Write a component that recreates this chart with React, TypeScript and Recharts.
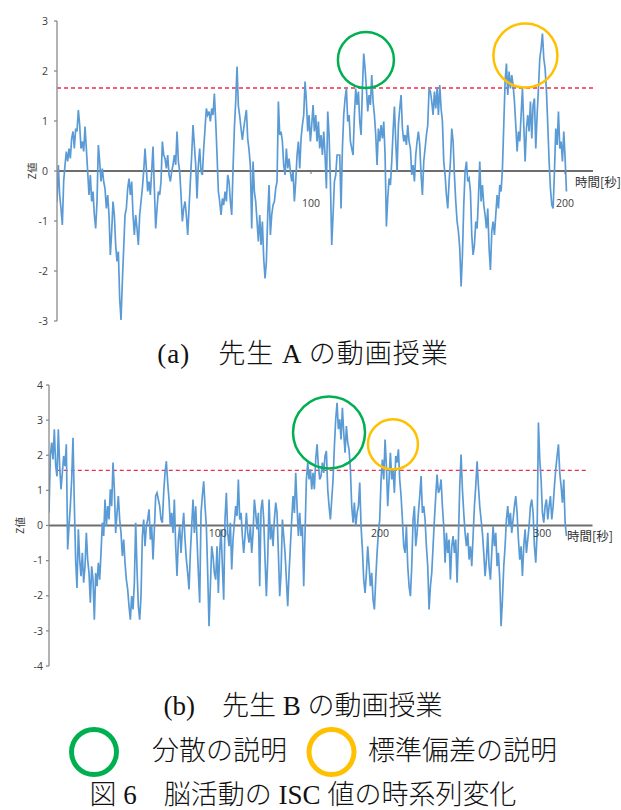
import React from 'react';
import { LineChart, Line, XAxis, YAxis, ReferenceLine, ReferenceDot } from 'recharts';

// ---------- data: teacher A (sampling interval DT_A seconds) ----------
const DT_A = 0.525;
const zA = [
  -0.61, 0.12, -0.48, -0.75, -1.08, -0.21, 0.12, 0.39, 0.19, 0.45,
  0.25, 0.65, 0.79, 0.45, 0.85, 0.79, 1.22, 0.92, 0.45, 0.59,
  0.39, 0.89, 0.45, -0.01, -0.48, -0.08, -0.61, -0.41, -0.88, -1.15,
  -0.61, 0.52, 0.19, -0.21, 0.05, -0.21, -0.35, -0.75, -0.48, -0.88,
  -1.68, -1.21, -0.61, -0.88, -1.48, -1.81, -1.61, -2.55, -2.98, -2.21,
  -1.55, -0.88, -0.75, -0.35, -0.15, -0.48, -0.21, -0.88, -1.28, -0.88,
  -1.15, -1.48, -0.88, -0.61, -0.35, -0.01, 0.45, 0.05, -0.41, -0.21,
  -0.48, -0.01, 0.49, -0.35, -1.15, -0.75, -0.41, -0.48, -0.21, 0.59,
  0.32, 0.25, 0.05, 0.32, -0.08, -0.21, -0.01, 0.12, 0.32, 0.12,
  0.79, 0.19, -0.01, -0.48, -1.01, -0.75, -0.61, -0.88, -1.28, -0.75,
  -0.21, 0.32, 0.92, 0.52, 0.12, -0.55, 0.12, 0.45, -0.01, -0.08,
  0.45, 0.85, 1.25, 1.12, 1.19, 0.99, 1.25, 1.12, 1.55, 0.99,
  0.32, -0.41, -0.61, -0.88, -0.55, -0.68, -0.41, -0.61, -0.08, -0.21,
  -0.61, -0.88, 0.05, 0.85, 1.39, 2.09, 1.3, 1.1, 0.85, 0.62,
  0.85, 1.05, 1.22, 0.65, 0.42, 0.1, -1.15, 0.19, -0.41, -0.61,
  -1.01, -1.41, -0.88, -1.48, -1.01, -1.75, -2.15, -1.81, -0.88, -0.28,
  -1.28, -0.88, -0.68, -0.61, -0.35, -0.21, 1.39, 0.72, 0.79, 0.59,
  0.12, -0.08, 0.45, 0.05, 0.25, -0.01, -0.21, -0.01, -0.61, -0.21,
  0.32, 0.59, 0.05, 0.65, 0.92, 1.12, 1.79, 1.39, 0.79, 1.12,
  0.59, 0.92, 1.32, 0.79, 1.12, 0.59, 0.99, 0.45, 0.72, 0.32,
  0.79, 0.32, -0.35, 1.19, 0.72, -0.21, -1.48, -0.88, -0.21, -0.08,
  0.32, 0.32, 0.32, -0.75, 0.45, 1.12, 1.45, 1.65, 0.99, 1.12,
  0.59, 0.45, 0.32, 1.12, 1.65, 1.32, 1.59, 0.99, 0.72, 1.65,
  2.35, 2.05, 1.65, 1.19, 1.52, 1.32, 1.92, 1.39, 1.12, 0.72,
  0.12, 0.85, 0.59, 0.92, 0.65, 0.99, 0.32, -1.11, -0.55, -0.15,
  -0.28, 0.19, 0.79, 1.29, 0.59, -0.01, 0.92, 1.25, 1.52, 0.85,
  0.59, 0.72, 0.52, 0.92, 0.59, 0.45, -0.08, 0.12, -0.21, 0.32,
  0.59, 0.79, 0.52, -0.08, -0.48, 0.19, 0.45, 0.72, 0.92, 1.65,
  1.59, 1.39, 1.12, 1.59, 1.25, 1.65, 1.12, 1.72, 1.25, 0.99,
  0.19, -0.08, -0.48, -0.75, -0.21, 0.19, 0.85, 0.59, -0.08, -0.61,
  -1.01, -1.21, -1.55, -2.31, -1.68, -0.68, -0.01, 0.19, -0.21, -0.15,
  -0.41, -1.28, -1.68, -1.48, -1.01, -1.15, -0.55, 0.19, -0.61, -0.28,
  -0.68, -0.88, -1.15, -0.75, -1.55, -1.98, -1.21, -1.01, -1.28, -0.88,
  -0.48, -0.75, -0.28, -0.41, 0.05, 0.92, 1.79, 2.15, 1.52, 1.99,
  1.65, 1.92, 1.72, 1.39, 0.92, 0.39, 0.79, 0.59, 1.12, 1.65,
  0.92, 0.19, 0.85, 1.12, 0.79, 1.39, 0.65, 1.32, 1.45, 0.45,
  1.12, 1.65, 2.25, 2.45, 2.75, 2.25, 2.05, 1.59, 0.92, 0.19,
  -0.35, -0.68, -0.75, -0.01, 0.85, 0.52, 1.19, 0.45, 0.59, 0.19,
  0.79, 0.25, -0.41,
];

// ---------- data: teacher B (sampling interval DT_B seconds) ----------
const DT_B = 0.822;
const zB = [
  0.36, 1.98, 2.36, 1.88, 2.74, 1.7, 1.4, 2.74, 1.69, 1.03,
  1.5, 1.98, 1.69, 2.31, -0.68, -0.02, 0.55, 1.31, 2.5, 0.6,
  -1.0, -1.78, -0.11, -0.97, -1.44, -0.78, -1.63, -1.16, -0.21, -0.97,
  -1.35, -2.2, -1.16, -1.54, -2.68, -1.35, -1.73, -1.06, -1.54, -0.78,
  0.08, -0.3, 0.74, -0.02, 0.55, 0.17, 1.03, 0.55, 1.79, 1.03,
  -0.21, 0.36, 0.84, 0.17, -0.21, -0.87, -0.4, -1.06, -1.54, -1.82,
  -2.3, -2.68, -2.01, -2.39, -1.63, 0.08, -1.25, -2.3, -2.68, -2.01,
  -0.3, 0.17, -0.59, -0.02, 0.17, 0.46, -0.4, -0.02, -0.97, -0.11,
  0.84, 0.93, 0.74, 0.55, 0.17, 0.08, 0.93, 1.5, 1.83, 1.22,
  0.74, -0.02, 0.36, -0.21, 0.74, -0.59, -1.44, -0.4, -0.02, -0.78,
  -0.11, 0.36, -0.4, -0.97, -1.35, -1.82, -0.78, -0.02, 0.74, -0.21,
  0.55, -0.4, -1.35, -2.2, 0.36, 0.84, 1.26, 0.55, -0.02, -1.35,
  -2.87, -1.73, -0.59, -0.87, -1.35, -1.54, -0.59, -1.92, -0.78, -0.11,
  -1.16, -2.11, 0.2, 0.93,
  -0.21, -0.59, 0.08, -1.25, -0.4, 0.08, 0.55, 0.27, 1.31, 0.17,
  0.36, -0.3, -0.78, -0.3, 0.36, -0.21, -0.49, -0.02, -0.78, -0.21,
  0.74, 0.36, -0.11, 0.36, -1.73, 0.46, 0.74, 0.17, -0.97, -2.01,
  -0.97, 0.74, -0.4, -0.02, -0.59, 0.17, 0.65, 0.36, -0.78, -2.01,
  -1.35, 0.17, -0.3, -0.78, -1.54, -2.3, -1.35, -0.59, 0.17, 0.84,
  0.36, 1.5, 0.55, -0.3, 0.36, -0.3, -0.02, -1.73, -0.21, 1.31,
  1.79, 1.31, 1.6, 1.03, 1.5, 1.03, 1.88, 2.31, 1.69, 1.31,
  1.41, 1.79, 1.5, 1.98, 2.12, 1.03, 0.55, 0.17, 0.74, 1.31,
  2.26, 3.02, 3.49, 2.74, 3.02, 2.45, 3.35, 2.64, 2.07, 2.83,
  2.36, 2.17, 1.6, 0.55, 0.08, 0.65, -0.02, 0.36, 0.55, 1.22,
  -0.02, -0.68, -1.54, -1.92, -1.35, -0.59, -1.16, -1.73, -1.35, -2.11,
  -2.39, -1.54, -0.78, -0.21, 0.17, 1.31, 1.88, 1.31, 2.45, 1.69,
  0.55, 1.31, 2.07, 1.31, 1.6, 0.93, 1.98, 1.79, 2.17, 1.31,
  0.84, 0.17, -0.59, -0.78, -0.02, -1.16,
  -1.73, -2.01,
  -1.16, 0.17, 0.55, -0.59, -0.21, 0.36, 0.84, 1.41, 0.36, 0.55,
  0.17, -0.59, -1.16, -2.39, -1.73, -1.35, -0.59, 0.17, 0.84, 1.45,
  0.93, 1.03, 1.31, 0.55, -0.02, -1.06, -0.21, -0.78, -0.4, -1.54,
  -0.59, -0.3, -0.78, -0.4, -1.63, -0.4, 1.12, 2.02, 1.03, 0.36,
  -0.21, -0.59, -0.21, -0.97, -0.59, -1.16, -0.3, 0.55, 1.12, 1.83,
  1.12, 0.55, 0.17, -0.21, -0.78, -1.44, -0.97, -0.21, -1.16, -1.54,
  -0.78, -0.02, -0.59, -0.21, -1.16, -0.78, -1.54, -2.87, -2.11, -1.16,
  -0.59, 0.17, 0.55, -0.02, 0.36, -0.21, 0.17, 0.55, 0.84, 0.36,
  -0.4, -0.97, -0.59, -1.44, -0.59, -0.11, -0.78, -0.4, -0.02, 0.55,
  0.74, 0.36, -0.59, -1.06, -0.21, 2.93, 1.88, 1.31, 0.36, 0.08,
  0.55, 0.74, 0.17, 0.55, 0.84, 0.17, 0.55, 1.12, 1.6, 1.98,
  2.31, 1.5, 1.12, 0.65, 1.31, 0.08, -0.3,
];

// ---------- axes / annotations ----------
const yTicksA = [-3, -2, -1, 0, 1, 2, 3];
const yTicksB = [-4, -3, -2, -1, 0, 1, 2, 3, 4];
const xTicksA = [100, 200];
const xTicksB = [100, 200, 300];
const xDomainA: [number, number] = [0, 211];
const xDomainB: [number, number] = [0, 335];
const thresholdA = 1.66;
const thresholdB = 1.57;
const thresholdSpanB: [number, number] = [4.8, 331.5];
const varianceMarkA = { t: 121.6, z: 2.22 };
const stdMarkA = { t: 184.4, z: 2.31 };
const varianceMarkB = { t: 172.6, z: 2.65 };
const stdMarkB = { t: 212.0, z: 2.31 };

const dataA = zA.map((z, i) => ({ t: +(i * DT_A).toFixed(3), z }));
const dataB = zB.map((z, i) => ({ t: +(i * DT_B).toFixed(3), z }));

const SANS = '"Open Sans", "Noto Sans", sans-serif';
const JP = '"Noto Sans CJK JP", sans-serif';
const SERIF = '"Liberation Serif", "Noto Sans CJK JP", serif';
const BLUE = '#5b9bd5';
const AXIS = '#6e6e6e';
const GREEN = '#00b050';
const YELLOW = '#ffc000';
const RED = '#ec2f4b';

const xTickLabel = (text: string, dx: number, dy: number, mark: boolean) => (props: any) => {
  const vb = props.viewBox || { x: 0, y: 0, width: 0, height: 0 };
  const x = vb.x + (vb.width || 0) / 2;
  const y = vb.y + (vb.height || 0) / 2;
  return (
    <g>
      {mark ? <line x1={x} x2={x} y1={y} y2={y + 3} stroke={AXIS} strokeWidth={1} /> : null}
      <text x={x + dx} y={y + dy} textAnchor="middle" fontSize={10.5} fill="#404040" fontFamily={SANS}>
        {text}
      </text>
    </g>
  );
};

const timeTitle = (dx: number, dy: number) => (props: any) => {
  const vb = props.viewBox || { x: 0, y: 0, width: 0, height: 0 };
  const x = vb.x + (vb.width || 0) / 2;
  const y = vb.y + (vb.height || 0) / 2;
  return (
    <text x={x + dx} y={y + dy} textAnchor="start" fontSize={12.5} fill="#333" fontFamily={JP}>
      時間[秒]
    </text>
  );
};

const zTitle = (cx: number) => (props: any) => {
  const vb = props.viewBox || { x: 0, y: 0, width: 0, height: 0 };
  const x = vb.x + cx;
  const y = vb.y + vb.height / 2;
  return (
    <text
      x={x}
      y={y}
      transform={`rotate(-90 ${x} ${y})`}
      textAnchor="middle"
      dominantBaseline="central"
      fontSize={10.5}
      fill="#404040"
      fontFamily={JP}
    >
      Z値
    </text>
  );
};

const tickStyle = { fontSize: 10.5, fill: '#404040', fontFamily: SANS };

const caption = (top: number): React.CSSProperties => ({
  position: 'absolute',
  left: 0,
  width: 606,
  top,
  height: 27,
  lineHeight: '27px',
  textAlign: 'center',
  fontSize: 27,
  fontFamily: SERIF,
  fontWeight: 300,
  color: '#111',
  whiteSpace: 'nowrap',
});

export default function App() {
  return (
    <div style={{ position: 'absolute', left: 0, top: 0, width: 621, height: 810, background: '#fff', overflow: 'hidden' }}>
      {/* Chart (a) */}
      <div style={{ position: 'absolute', left: 0, top: 0 }}>
        <LineChart width={621} height={330} data={dataA} margin={{ top: 21, right: 28, bottom: 9, left: 0 }}>
          <XAxis dataKey="t" type="number" domain={xDomainA} hide allowDataOverflow />
          <YAxis
            type="number"
            domain={[-3, 3]}
            ticks={yTicksA}
            interval={0}
            width={57}
            tick={tickStyle}
            tickSize={3}
            tickMargin={6}
            axisLine={{ stroke: '#8a8a8a', strokeWidth: 1.3 }}
            tickLine={{ stroke: '#8a8a8a', strokeWidth: 1.3 }}
            label={{ content: zTitle(31) }}
          />
          <ReferenceLine y={0} stroke={AXIS} strokeWidth={2} ifOverflow="visible" />
          <ReferenceLine y={thresholdA} stroke={RED} strokeWidth={1.3} strokeDasharray="4 3" />
          <Line type="linear" dataKey="z" stroke={BLUE} strokeWidth={1.7} dot={false} isAnimationActive={false} />
          {xTicksA.map((v) => (
            <ReferenceDot key={v} x={v} y={0} r={0} fill="none" stroke="none" ifOverflow="visible" label={{ content: xTickLabel(String(v), 0, 36, true) }} />
          ))}
          <ReferenceDot x={xDomainA[1]} y={0} r={0} fill="none" stroke="none" ifOverflow="visible" label={{ content: timeTitle(-18, 16) }} />
          <ReferenceDot x={varianceMarkA.t} y={varianceMarkA.z} r={28} fill="none" stroke={GREEN} strokeWidth={2.5} ifOverflow="visible" />
          <ReferenceDot x={stdMarkA.t} y={stdMarkA.z} r={32} fill="none" stroke={YELLOW} strokeWidth={2.5} ifOverflow="visible" />
        </LineChart>
      </div>

      <div style={{ ...caption(341), letterSpacing: 1 }}>(a)　先生 A の動画授業</div>

      {/* Chart (b) */}
      <div style={{ position: 'absolute', left: 0, top: 370 }}>
        <LineChart width={621} height={305} data={dataB} margin={{ top: 15, right: 28.5, bottom: 9, left: 0 }}>
          <XAxis dataKey="t" type="number" domain={xDomainB} hide allowDataOverflow />
          <YAxis
            type="number"
            domain={[-4, 4]}
            ticks={yTicksB}
            interval={0}
            width={49}
            tick={tickStyle}
            tickSize={3}
            tickMargin={3}
            axisLine={{ stroke: '#8a8a8a', strokeWidth: 1.3 }}
            tickLine={{ stroke: '#8a8a8a', strokeWidth: 1.3 }}
            label={{ content: zTitle(19.5) }}
          />
          <ReferenceLine y={0} stroke={AXIS} strokeWidth={2} ifOverflow="visible" />
          <ReferenceLine
            segment={[{ x: thresholdSpanB[0], y: thresholdB }, { x: thresholdSpanB[1], y: thresholdB }]}
            stroke={RED}
            strokeWidth={1.3}
            strokeDasharray="4 3"
          />
          <Line type="linear" dataKey="z" stroke={BLUE} strokeWidth={1.7} dot={false} isAnimationActive={false} />
          {xTicksB.map((v) => (
            <ReferenceDot key={v} x={v} y={0} r={0} fill="none" stroke="none" ifOverflow="visible" label={{ content: xTickLabel(String(v), 6.5, 11, false) }} />
          ))}
          <ReferenceDot x={xDomainB[1]} y={0} r={0} fill="none" stroke="none" ifOverflow="visible" label={{ content: timeTitle(-25.5, 15) }} />
          <ReferenceDot x={varianceMarkB.t} y={varianceMarkB.z} r={36} fill="none" stroke={GREEN} strokeWidth={2.5} ifOverflow="visible" />
          <ReferenceDot x={stdMarkB.t} y={stdMarkB.z} r={25} fill="none" stroke={YELLOW} strokeWidth={2.5} ifOverflow="visible" />
        </LineChart>
      </div>

      <div style={caption(693)}>(b)　先生 B の動画授業</div>

      {/* Legend */}
      <svg width={621} height={60} style={{ position: 'absolute', left: 0, top: 722 }}>
        <circle cx={94} cy={30} r={22.5} fill="none" stroke={GREEN} strokeWidth={5} />
        <circle cx={331.5} cy={30} r={22.5} fill="none" stroke={YELLOW} strokeWidth={5} />
      </svg>
      <div style={{ ...caption(738), left: 152, width: 'auto', textAlign: 'left' }}>分散の説明</div>
      <div style={{ ...caption(738), left: 368, width: 'auto', textAlign: 'left' }}>標準偏差の説明</div>

      <div style={caption(782)}>図 6　脳活動の ISC 値の時系列変化</div>
    </div>
  );
}
